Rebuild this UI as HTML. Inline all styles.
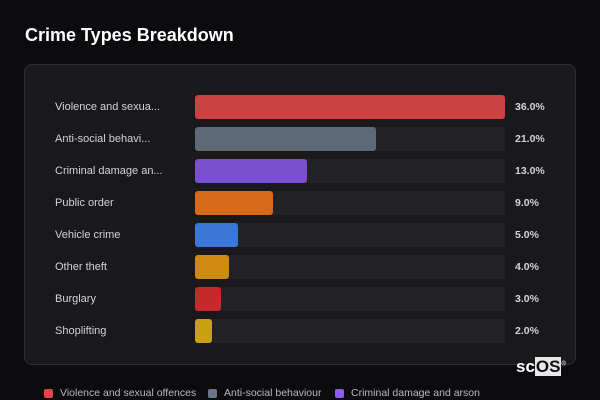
<!DOCTYPE html>
<html><head><meta charset="utf-8"><style>
*{margin:0;padding:0;box-sizing:border-box}
body{width:600px;height:400px;background:#0c0c0f;font-family:"Liberation Sans",sans-serif;position:relative;overflow:hidden;color:#d8d8dc}
.t{position:absolute;left:25px;top:25px;font-size:18px;font-weight:bold;color:#fff}
.card{position:absolute;left:24px;top:64px;width:552px;height:301px;background:#19191c;border:1px solid #2e2e33;border-radius:8px}
.lab{position:absolute;left:55px;font-size:11px;color:#d4d4d8;line-height:14px}
.tr{position:absolute;left:195px;width:310px;height:24px;background:#232326;border-radius:3px}
.b{position:absolute;left:0;top:0;height:24px;border-radius:3px}
.p{position:absolute;left:515px;font-size:10.5px;font-weight:bold;color:#d4d4d8;line-height:14px}
.lg{position:absolute;top:387px;font-size:10.5px;color:#b8b8c0;line-height:13px}
.sq{position:absolute;top:389px;width:9px;height:9px;border-radius:2px}
.logo{position:absolute;left:516px;top:357px;font-size:17px;font-weight:bold;color:#fff}
.logo span{background:#e8e8e8;color:#111;padding:0 1px}
</style></head><body>
<div class="t">Crime Types Breakdown</div>
<div class="card"></div>

<div class="lab" style="top:100px">Violence and sexua...</div>
<div class="tr" style="top:95px"><div class="b" style="width:310px;background:#cc4141"></div></div>
<div class="p" style="top:100px">36.0%</div>

<div class="lab" style="top:132px">Anti-social behavi...</div>
<div class="tr" style="top:127px"><div class="b" style="width:181px;background:#5e6977"></div></div>
<div class="p" style="top:132px">21.0%</div>

<div class="lab" style="top:164px">Criminal damage an...</div>
<div class="tr" style="top:159px"><div class="b" style="width:112px;background:#7b50d0"></div></div>
<div class="p" style="top:164px">13.0%</div>

<div class="lab" style="top:196px">Public order</div>
<div class="tr" style="top:191px"><div class="b" style="width:78px;background:#d86a1c"></div></div>
<div class="p" style="top:196px">9.0%</div>

<div class="lab" style="top:228px">Vehicle crime</div>
<div class="tr" style="top:223px"><div class="b" style="width:43px;background:#3a77d6"></div></div>
<div class="p" style="top:228px">5.0%</div>

<div class="lab" style="top:260px">Other theft</div>
<div class="tr" style="top:255px"><div class="b" style="width:34px;background:#d08a14"></div></div>
<div class="p" style="top:260px">4.0%</div>

<div class="lab" style="top:292px">Burglary</div>
<div class="tr" style="top:287px"><div class="b" style="width:26px;background:#c42a2a"></div></div>
<div class="p" style="top:292px">3.0%</div>

<div class="lab" style="top:324px">Shoplifting</div>
<div class="tr" style="top:319px"><div class="b" style="width:17px;background:#c9a012"></div></div>
<div class="p" style="top:324px">2.0%</div>

<div class="logo">sc<span>OS</span><sup style="font-size:6px;font-weight:normal">®</sup></div>

<div class="sq" style="left:44px;background:#e04444"></div><div class="lg" style="left:60px">Violence and sexual offences</div>
<div class="sq" style="left:208px;background:#6b7689"></div><div class="lg" style="left:224px">Anti-social behaviour</div>
<div class="sq" style="left:335px;background:#8a5cf0"></div><div class="lg" style="left:351px">Criminal damage and arson</div>
</body></html>
